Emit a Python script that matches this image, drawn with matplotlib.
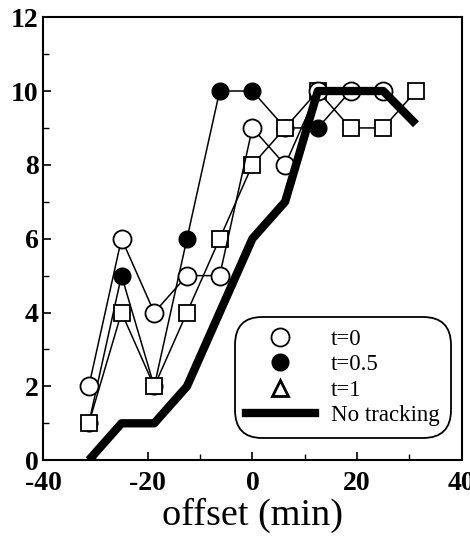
import matplotlib.pyplot as plt
from matplotlib.lines import Line2D

# Data
offset = [-31.25, -25, -18.75, -12.5, -6.25, 0, 6.25, 12.5, 18.75, 25, 31.25]
t0 = [2, 6, 4, 5, 5, 9, 8, 10, 10, 10]
t05 = [1, 5, 2, 6, 10, 10, 9, 9, 10, 10]
t1 = [1, 4, 2, 4, 6, 8, 9, 10, 9, 9, 10]
no_tracking = [0, 1, 1, 2, 4, 6, 7, 10, 10, 10, 9.1]

plt.rcParams['font.family'] = ['Liberation Serif', 'DejaVu Serif']
plt.rcParams['axes.unicode_minus'] = False

fig = plt.figure(figsize=(4.7, 5.37), dpi=100)
ax = fig.add_axes([0.0915, 0.143, 0.891, 0.825])

lw = 1.1
ax.plot(offset[:len(t05)], t05, color='black', lw=lw, marker='o', ms=12,
        mfc='black', mec='black', zorder=3)
ax.plot(offset, t1, color='black', lw=lw, marker='s', ms=12,
        mfc='white', mec='black', mew=1.3, zorder=4)
ax.plot(offset[:len(t0)], t0, color='black', lw=lw, marker='o', ms=13,
        mfc='white', mec='black', mew=1.3, zorder=5)
ax.plot(offset, no_tracking, color='black', lw=6, solid_capstyle='butt', zorder=6)

ax.set_xlim(-40, 40)
ax.set_ylim(0, 12)
ax.set_xticks([-40, -20, 0, 20, 40])
ax.set_xticks(range(-40, 41, 10), minor=True)
ax.set_yticks(range(0, 13, 2))
ax.set_yticks(range(0, 13, 1), minor=True)
ax.tick_params(which='both', direction='in', top=False, right=False)
ax.tick_params(which='major', length=6, width=1.2, labelsize=20)
ax.tick_params(axis='y', pad=3)
ax.tick_params(axis='x', pad=8)
ax.tick_params(which='minor', length=4, width=1.0)
for lab in ax.get_xticklabels() + ax.get_yticklabels():
    lab.set_fontweight('bold')
for s in ax.spines.values():
    s.set_linewidth(1.5)

ax.set_xlabel('offset (min)', fontsize=27.5, labelpad=1)

handles = [
    Line2D([], [], ls='none', marker='o', ms=13, mfc='white', mec='black', mew=1.3),
    Line2D([], [], ls='none', marker='o', ms=12, mfc='black', mec='black'),
    Line2D([], [], ls='none', marker='^', ms=12, mfc='white', mec='black', mew=2),
    Line2D([], [], color='black', lw=6),
]
leg = ax.legend(handles, ['t=0', 't=0.5', 't=1', 'No tracking'],
                loc='lower right', bbox_to_anchor=(0.985, 0.04), fontsize=16.5,
                frameon=True, fancybox=True, edgecolor='black',
                handlelength=3.0, labelspacing=0.2, borderpad=0.5,
                handletextpad=0.7, borderaxespad=0.2)
leg.get_frame().set_linewidth(1.3)
leg.get_frame().set_alpha(1)
leg.get_frame().set_boxstyle('round', pad=0, rounding_size=1.2)

fig.savefig('out.png', dpi=100)
